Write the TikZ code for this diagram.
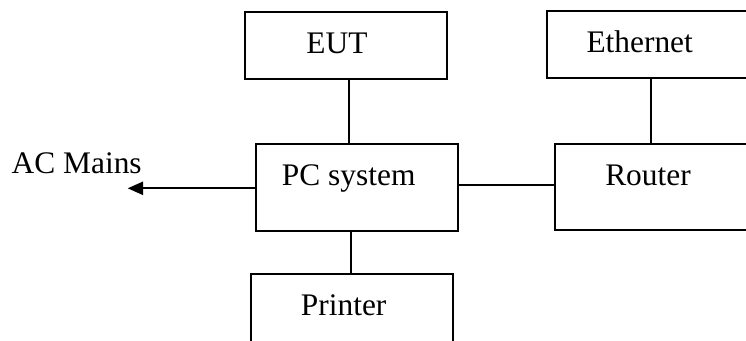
\documentclass[tikz,border=0pt]{standalone}
\usepackage{fontspec}
\setmainfont{Liberation Serif}
\usetikzlibrary{arrows.meta}
\begin{document}
\begin{tikzpicture}[x=1pt,y=-1pt,
  box/.style={draw=black,line width=2pt,rectangle,inner sep=0pt,outer sep=0pt},
  lbl/.style={inner sep=0pt,anchor=base,font=\fontsize{31.4}{36}\selectfont},
  conn/.style={draw=black,line width=1.8pt}]
\useasboundingbox (0,0) rectangle (746,340);
\fill[white] (0,0) rectangle (746,340);
\clip (0,0) rectangle (746,340);
% boxes
\node[box,minimum width=202.3pt,minimum height=66.7pt] (eut) at (345.85,45.35) {};
\node[box,minimum width=260pt,minimum height=66.7pt] (eth) at (677,44.35) {};
\node[box,minimum width=202pt,minimum height=87pt] (pc) at (357,187) {};
\node[box,minimum width=250pt,minimum height=86pt] (router) at (680,187) {};
\node[box,minimum width=202pt,minimum height=126pt] (printer) at (352,337) {};
% labels
\node[lbl] (teut) at (337,53.3) {EUT};
\node[lbl] (teth) at (639.7,52.7) {Ethernet};
\node[lbl] (tpc) at (348.7,185) {PC system};
\node[lbl] (trouter) at (648,185) {Router};
\node[lbl] (tprinter) at (343.7,315) {Printer};
\node[lbl] (tac) at (76.7,173.3) {AC Mains};
% connector guides
\coordinate (xa) at (349.3,0);
\coordinate (xb) at (651,0);
\coordinate (xc) at (350.7,0);
\coordinate (ya) at (0,185.3);
\coordinate (yb) at (0,188.3);
\coordinate (acend) at (127.7,188.3);
% connectors
\draw[conn] (eut.south -| xa) -- (pc.north -| xa);
\draw[conn] (eth.south -| xb) -- (router.north -| xb);
\draw[conn] (pc.east |- ya) -- (router.west |- ya);
\draw[conn] (pc.south -| xc) -- (printer.north -| xc);
\draw[conn,-{Triangle[length=15.5pt,width=13.3pt]}] (pc.west |- yb) -- (acend);
\end{tikzpicture}
\end{document}
